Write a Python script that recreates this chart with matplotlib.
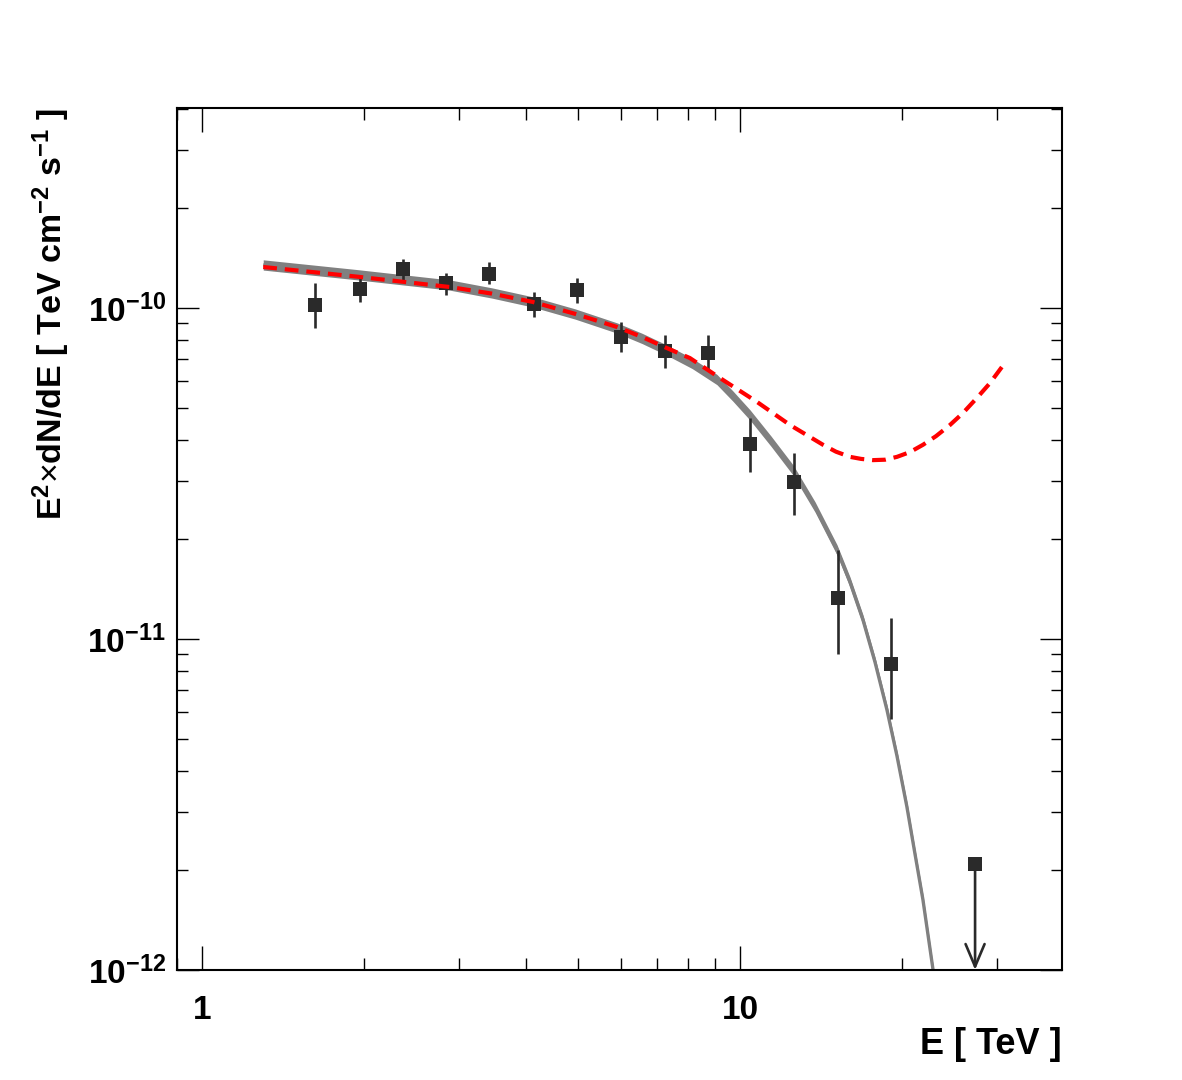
import matplotlib
matplotlib.use("Agg")
import matplotlib.pyplot as plt
import numpy as np

# ---------------- data ----------------
# flux points: E [TeV], E^2 dN/dE [TeV cm^-2 s^-1], and error bar ends
E_pts = [1.62, 1.97, 2.36, 2.84, 3.42, 4.14, 4.98, 6.01, 7.26, 8.72, 10.44, 12.6, 15.2, 19.1]
F_pts = [1.02e-10, 1.14e-10, 1.31e-10, 1.19e-10, 1.27e-10, 1.03e-10, 1.13e-10,
         8.19e-11, 7.42e-11, 7.33e-11, 3.88e-11, 2.97e-11, 1.33e-11, 8.39e-12]
F_hi = [1.19e-10, 1.23e-10, 1.41e-10, 1.28e-10, 1.38e-10, 1.12e-10, 1.23e-10,
        9.05e-11, 8.29e-11, 8.29e-11, 4.64e-11, 3.65e-11, 1.86e-11, 1.155e-11]
F_lo = [8.70e-11, 1.045e-10, 1.215e-10, 1.095e-10, 1.18e-10, 9.41e-11, 1.033e-10,
        7.35e-11, 6.57e-11, 6.50e-11, 3.20e-11, 2.37e-11, 8.99e-12, 5.73e-12]

# upper limit
E_ul = [27.35]
F_ul = [2.09e-12]

# best-fit model (grey band)
E_fit = [1.30, 1.93, 2.89, 3.46, 4.12, 4.94, 5.91, 6.58, 7.31, 8.15, 9.06, 9.70,
         10.44, 11.42, 12.55, 13.79, 15.15, 16.01, 16.93, 17.82, 18.76, 19.58,
         20.43, 21.14, 21.88, 22.85]
F_fit = [1.349e-10, 1.262e-10, 1.173e-10, 1.110e-10, 1.043e-10, 9.59e-11, 8.70e-11,
         8.09e-11, 7.46e-11, 6.80e-11, 6.08e-11, 5.42e-11, 4.75e-11, 3.96e-11,
         3.24e-11, 2.505e-11, 1.858e-11, 1.487e-11, 1.141e-11, 8.52e-12, 6.10e-12,
         4.43e-12, 3.11e-12, 2.25e-12, 1.63e-12, 1.0e-12]

# alternative model (red dashed)
E_alt = [1.30, 1.93, 2.89, 3.46, 4.12, 4.94, 5.91, 6.58, 7.31, 8.07, 9.30, 10.76,
         12.39, 14.27, 15.08, 16.01, 16.79, 17.67, 18.60, 19.58, 20.70, 21.88,
         23.14, 24.56, 25.98, 27.57, 29.15, 30.69]
F_alt = [1.33e-10, 1.245e-10, 1.157e-10, 1.105e-10, 1.043e-10, 9.60e-11, 8.76e-11,
         8.17e-11, 7.57e-11, 7.06e-11, 6.06e-11, 5.20e-11, 4.43e-11, 3.86e-11,
         3.68e-11, 3.55e-11, 3.50e-11, 3.47e-11, 3.48e-11, 3.55e-11, 3.67e-11,
         3.86e-11, 4.10e-11, 4.43e-11, 4.82e-11, 5.35e-11, 5.93e-11, 6.64e-11]

x_ticks = [1, 10]
x_ticklabels = ["1", "10"]
y_ticks = [1e-12, 1e-11, 1e-10]
y_ticklabels = [r"$\mathbf{10^{-12}}$", r"$\mathbf{10^{-11}}$", r"$\mathbf{10^{-10}}$"]

# ---------------- style ----------------
plt.rcParams["font.family"] = ["Liberation Sans", "DejaVu Sans"]
plt.rcParams["mathtext.fontset"] = "custom"
plt.rcParams["mathtext.rm"] = "Liberation Sans"
plt.rcParams["mathtext.bf"] = "Liberation Sans:bold"
plt.rcParams["mathtext.it"] = "Liberation Sans:italic"

fig = plt.figure(figsize=(11.82, 10.80), dpi=100)
ax = fig.add_axes([0.1497, 0.1019, 0.7488, 0.7981])
ax.set_xscale("log")
ax.set_yscale("log")
ax.set_xlim(0.8986, 39.68)
ax.set_ylim(1e-12, 4.02e-10)

# grey model band
band = 0.0155
Ef = np.array(E_fit)
Ff = np.array(F_fit)
ax.fill_between(Ef, Ff * 10 ** (-band), Ff * 10 ** band, color="#808080", lw=0, zorder=2)
ax.plot(Ef, Ff, color="#808080", lw=2.4, solid_capstyle="butt", solid_joinstyle="round", zorder=2)

# data points
mk = "#2a2a2a"
yerr = [np.array(F_pts) - np.array(F_lo), np.array(F_hi) - np.array(F_pts)]
ax.errorbar(E_pts, F_pts, yerr=yerr, fmt="s", color=mk, ms=9.4, mew=0,
            elinewidth=1.9, capsize=2.6, capthick=3.0, zorder=3)

# upper limit
ax.plot(E_ul, F_ul, "s", color=mk, ms=9.4, mew=0, zorder=3)
for e, f in zip(E_ul, F_ul):
    ax.annotate("", xy=(e, 1e-12), xytext=(e, f),
                arrowprops=dict(arrowstyle="->,head_length=0.9,head_width=0.38",
                                mutation_scale=18,
                                color=mk, lw=1.9, shrinkA=0, shrinkB=0),
                zorder=3)

# red dashed model
ax.plot(E_alt, F_alt, color="#ff0000", lw=3.0, dashes=(3.3, 1.9), zorder=4)

# ticks
ax.set_xticks(x_ticks)
ax.set_xticklabels(x_ticklabels)
ax.xaxis.set_minor_locator(matplotlib.ticker.LogLocator(base=10, subs=np.arange(2, 10)))
ax.xaxis.set_minor_formatter(matplotlib.ticker.NullFormatter())
ax.set_yticks(y_ticks)
ax.set_yticklabels(y_ticklabels)
ax.yaxis.set_minor_locator(matplotlib.ticker.LogLocator(base=10, subs=np.arange(2, 10), numticks=20))
ax.yaxis.set_minor_formatter(matplotlib.ticker.NullFormatter())

ax.tick_params(which="both", direction="in", top=True, right=True, width=1.0, colors="black")
ax.tick_params(axis="x", which="major", length=17, pad=18, labelsize=24)
ax.tick_params(axis="x", which="minor", length=8.6)
ax.tick_params(axis="y", which="major", length=16, pad=8, labelsize=24)
ax.tick_params(axis="y", which="minor", length=8)
for lab in ax.get_xticklabels():
    lab.set_fontweight("bold")

for s in ax.spines.values():
    s.set_linewidth(1.5)

ax.set_xlabel("E [ TeV ]", fontsize=26, fontweight="bold", loc="right")
ax.xaxis.set_label_coords(1.0, -0.066)
ax.set_ylabel(r"E$^{\mathbf{2}}$$\times$dN/dE [ TeV cm$^{\mathbf{-2}}$ s$^{\mathbf{-1}}$ ]",
              fontsize=24.5, fontweight="bold", loc="top")
ax.yaxis.set_label_coords(-0.119, 1.0)

fig.savefig("out.png", dpi=100)
